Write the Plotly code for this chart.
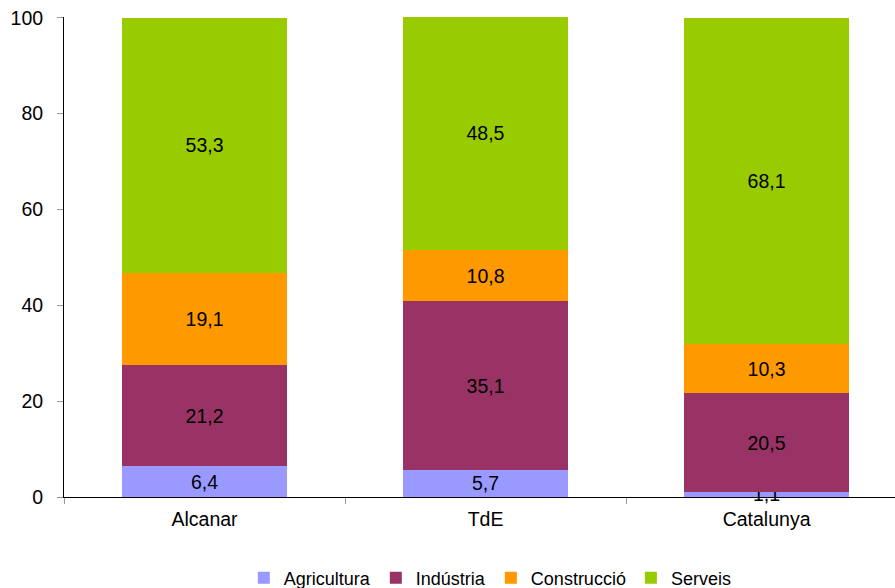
import plotly.graph_objects as go

categories = ["Alcanar", "TdE", "Catalunya"]
series_names = ["Agricultura", "Indústria", "Construcció", "Serveis"]
agricultura = [6.4, 5.7, 1.1]
industria = [21.2, 35.1, 20.5]
construccio = [19.1, 10.8, 10.3]
serveis = [53.3, 48.5, 68.1]
colors = ["#9999FF", "#993366", "#FF9900", "#99CC00"]
y_ticks = [0, 20, 40, 60, 80, 100]

FONT = "Liberation Sans, Arial, sans-serif"

fig = go.Figure()
for name, vals, col in zip(series_names, [agricultura, industria, construccio, serveis], colors):
    fig.add_trace(go.Bar(
        x=categories, y=vals, name=name,
        marker=dict(color=col, line=dict(width=0)),
        text=[f"{v:.1f}".replace(".", ",") for v in vals],
        textposition="inside", insidetextanchor="middle",
        constraintext="none",
        textfont=dict(family=FONT, size=19.5, color="black"),
        cliponaxis=(name != "Agricultura"),
    ))

fig.update_layout(
    barmode="stack",
    bargap=0.41,
    width=895, height=588,
    margin=dict(l=64, r=0, t=17, b=91),
    plot_bgcolor="white", paper_bgcolor="white",
    font=dict(family=FONT, size=19.5, color="black"),
    showlegend=True,
    legend=dict(
        orientation="h", x=0.513, xanchor="center",
        yref="container", y=0.017, yanchor="middle",
        font=dict(family=FONT, size=18, color="black"),
        itemwidth=30, traceorder="normal",
    ),
    xaxis=dict(
        range=[-0.5, 2.457],
        showline=True, linecolor="black", linewidth=1,
        ticks="outside", tickson="boundaries", ticklen=6, tickcolor="#999999",
        ticklabelstandoff=5,
        showgrid=False, zeroline=False,
        tickfont=dict(family=FONT, size=19.5, color="black"),
    ),
    yaxis=dict(
        range=[0, 100.15], tickvals=y_ticks,
        showline=True, linecolor="black", linewidth=1,
        ticks="outside", ticklen=6, tickcolor="#999999",
        ticklabelstandoff=10,
        showgrid=False, zeroline=False,
        tickfont=dict(family=FONT, size=19.5, color="black"),
    ),
)

fig.write_html(
    "out.html",
    config={"displayModeBar": False},
    post_script="document.body.style.margin='0';document.body.style.padding='0';",
)
